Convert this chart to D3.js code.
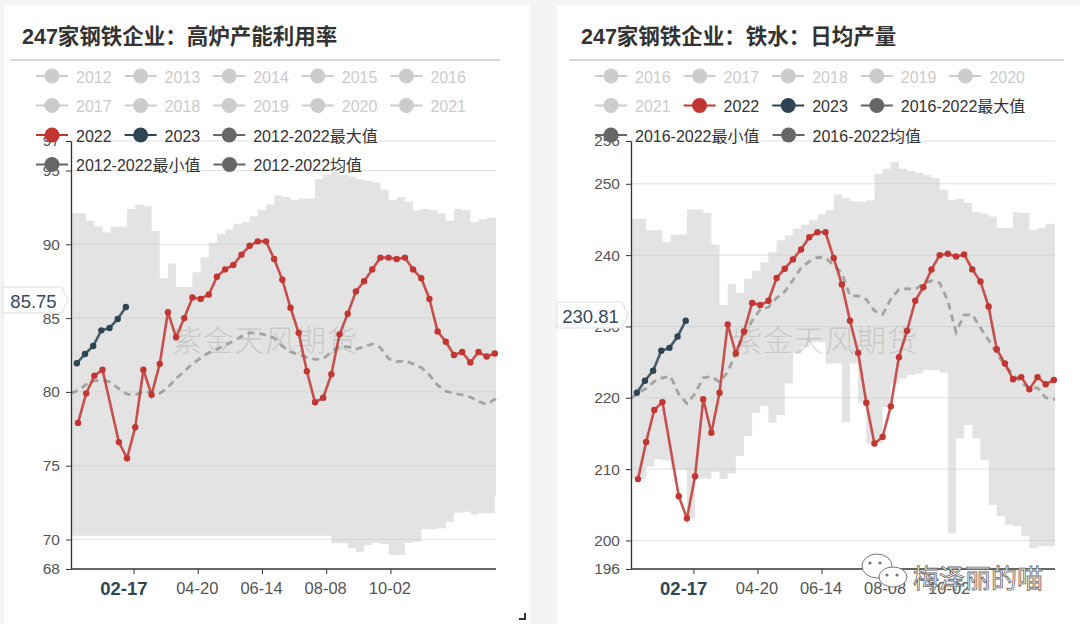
<!DOCTYPE html>
<html><head><meta charset="utf-8">
<script src="https://cdn.jsdelivr.net/npm/d3@7"></script>
<style>
html,body{margin:0;padding:0;background:#f4f4f4;}
svg{display:block;font-family:"Liberation Sans","Noto Sans CJK SC",sans-serif;}
</style></head><body>
<svg id="c" width="1080" height="624"></svg>
<script>
// ---------------- data ----------------
const dates2022 = ["01-07","01-14","01-21","01-28","02-11","02-18","02-25","03-04","03-11","03-18","03-25","04-01","04-08","04-15","04-22","04-29","05-06","05-13","05-20","05-27","06-03","06-10","06-17","06-24","07-01","07-08","07-15","07-22","07-29","08-05","08-12","08-19","08-26","09-02","09-09","09-16","09-23","09-30","10-07","10-14","10-21","10-28","11-04","11-11","11-18","11-25","12-02","12-09","12-16","12-23","12-30"];
const dates2023 = ["01-06","01-13","01-20","01-27","02-03","02-10","02-17"];
const histDates = ["01-01","01-07","01-14","01-21","01-28","02-04","02-11","02-18","02-25","03-04","03-11","03-18","03-25","04-01","04-08","04-15","04-22","04-29","05-06","05-13","05-20","05-27","06-03","06-10","06-17","06-24","07-01","07-08","07-15","07-22","07-29","08-05","08-12","08-19","08-26","09-02","09-09","09-16","09-23","09-30","10-07","10-14","10-21","10-28","11-04","11-11","11-18","11-25","12-02","12-09","12-16","12-23","12-30","12-31"];

// chart 1: blast furnace capacity utilisation (%)
const util2022 = [77.9,79.9,81.1,81.5,76.6,75.5,77.6,81.5,79.8,81.9,85.4,83.7,85.0,86.4,86.3,86.6,87.8,88.3,88.6,89.3,89.9,90.2,90.2,89.0,87.6,85.7,84.0,81.4,79.3,79.6,81.2,83.9,85.3,86.8,87.5,88.3,89.1,89.1,89.0,89.1,88.3,87.7,86.3,84.1,83.4,82.5,82.7,82.0,82.7,82.4,82.6];
const util2023 = [81.94,82.57,83.11,84.17,84.33,84.94,85.75];
const utilMax = [92.1,92.1,91.6,91.2,90.8,91.2,91.2,92.4,92.7,92.6,90.9,87.7,88.7,87.1,87.1,88.1,89.1,90.1,90.7,91.0,91.4,91.5,91.9,92.3,92.7,93.3,93.2,93.0,93.1,93.1,94.4,94.7,94.9,94.7,94.6,94.4,94.3,94.2,93.7,93.0,93.2,92.9,92.3,92.4,92.3,92.1,91.6,92.4,92.3,91.5,91.7,91.8,91.8,91.8];
const utilMin = [70.26,70.26,70.26,70.26,70.26,70.26,70.26,70.26,70.26,70.26,70.26,70.26,70.26,70.26,70.26,70.26,70.26,70.26,70.26,70.26,70.26,70.26,70.26,70.26,70.26,70.26,70.26,70.26,70.26,70.26,70.26,70.26,69.74,69.74,69.40,69.17,69.63,69.78,69.69,68.95,68.95,69.78,69.85,70.69,70.69,70.76,71.21,71.81,71.88,71.70,71.77,71.77,72.95,72.95];
const utilMean = [79.9,80.1,80.5,80.75,80.8,80.65,80.2,79.85,79.8,80.0,79.95,79.9,80.3,80.9,81.4,81.9,82.3,82.65,82.9,83.15,83.45,83.75,84.0,84.0,83.85,83.65,83.1,82.7,82.55,82.35,82.2,82.25,82.7,83.1,83.05,82.9,83.05,83.25,83.0,82.25,82.05,82.1,81.9,81.65,81.15,80.45,80.05,79.9,79.8,79.65,79.35,79.15,79.5,79.7];

// chart 2: hot metal daily output (10k t)
const iron2022 = [208.6,213.8,218.3,219.4,206.2,203.1,209.0,219.8,215.1,220.7,230.3,226.2,229.3,233.3,233.0,233.6,236.8,238.1,239.4,240.8,242.5,243.2,243.2,239.6,235.9,230.8,226.3,219.3,213.6,214.5,218.8,225.7,229.4,233.6,235.5,238.0,240.0,240.2,239.8,240.1,238.0,236.3,232.8,226.8,224.8,222.6,222.9,221.2,222.9,221.9,222.5];
const iron2023 = [220.7,222.4,223.8,226.6,227.0,228.6,230.81];
const ironMax = [245.1,245.1,243.5,243.5,241.8,242.9,242.9,246.4,246.4,245.9,241.5,233.0,236.0,234.7,236.7,237.8,239.0,240.4,242.1,242.8,243.7,244.3,244.9,245.7,246.3,248.5,248.0,247.6,247.5,247.7,251.4,252.1,253.1,252.1,251.8,251.5,251.2,250.8,249.2,247.7,247.9,247.3,246.0,245.8,245.4,243.8,243.8,246.0,245.9,243.5,243.8,244.4,244.4,244.4];
const ironMin = [208.6,208.6,210.35,211.4,211.2,209.9,209.9,203.1,208.7,208.7,209.65,208.6,209.4,211.85,214.65,217.9,218.85,216.5,217.6,222.0,226.2,227.1,227.8,227.8,224.8,224.8,216.6,224.8,219.3,213.6,213.6,218.7,222.0,222.7,223.2,223.4,223.9,223.9,223.5,201.0,214.3,216.2,214.3,211.3,205.0,203.4,202.2,202.0,200.6,198.9,199.2,199.2,199.2,199.2];
const ironMean = [219.9,220.7,221.3,222.3,222.8,223.0,220.5,219.2,220.6,222.8,223.0,222.2,223.6,226.3,228.8,230.8,232.4,232.7,234.0,234.9,236.5,238.2,239.1,239.7,239.6,238.6,237.5,234.3,234.3,233.8,232.2,231.7,233.8,235.2,235.3,235.2,236.0,236.4,236.1,233.6,229.2,231.6,231.7,229.8,228.1,226.2,224.5,223.3,222.1,221.4,221.4,220.0,219.8,219.8];

const utilTicks = [68,70,75,80,85,90,95,97];
const ironTicks = [196,200,210,220,230,240,250,256];
const xTickDates = ["02-24","04-20","06-14","08-08","10-02"];
const xTickLabels = ["","04-20","06-14","08-08","10-02"];
const pointerDate = "02-17";

const legendUtil = ["2012","2013","2014","2015","2016","2017","2018","2019","2020","2021","2022","2023","2012-2022最大值","2012-2022最小值","2012-2022均值"];
const legendIron = ["2016","2017","2018","2019","2020","2021","2022","2023","2016-2022最大值","2016-2022最小值","2016-2022均值"];

// ---------------- drawing ----------------
const svg = d3.select("#c");
const parseMD = d3.timeParse("%m-%d");
const RED = "#c23531", NAVY = "#2f4554", GREY = "#666";

svg.append("rect").attr("x",0).attr("y",0).attr("width",1080).attr("height",624).attr("fill","#f4f4f4");
svg.append("rect").attr("x",4).attr("y",5).attr("width",526).attr("height",625).attr("fill","#fff");
svg.append("rect").attr("x",557).attr("y",5).attr("width",530).attr("height",625).attr("fill","#fff");

function legend(items, x0, y0, maxRight) {
  let x = x0, y = y0;
  items.forEach(name => {
    const active = !/^20(1[2-9]|2[01])$/.test(name);
    const col = !active ? "#ccc" : (name === "2022" ? RED : name === "2023" ? NAVY : GREY);
    const g = svg.append("g");
    const t = g.append("text").text(name).attr("font-size",16)
      .attr("fill", active ? "#333" : "#ccc").attr("dominant-baseline","central");
    const w = t.node().getComputedTextLength();
    if (x + 40 + w > maxRight && x > x0) { x = x0; y += 29.5; }
    g.append("line").attr("x1",x).attr("x2",x+32).attr("y1",y).attr("y2",y)
      .attr("stroke",col).attr("stroke-width",2);
    g.append("circle").attr("cx",x+16).attr("cy",y).attr("r",7.5).attr("fill",col);
    t.attr("x",x+40).attr("y",y+1);
    x += 40 + w + 13;
  });
}

function chart(o) {
  const x = d3.scaleTime().domain([parseMD("01-01"), parseMD("12-31")]).range([o.x0, o.x1]);
  const y = d3.scaleLinear().domain([o.ticks[0], o.ticks[o.ticks.length-1]]).range([569, 141]);
  const g = svg.append("g");

  // title + separator
  svg.append("text").attr("x",o.titleX).attr("y",37).attr("dominant-baseline","central")
    .attr("font-size",21.5).attr("font-weight","bold").attr("fill","#333").text(o.title);
  svg.append("line").attr("x1",o.sepX0).attr("x2",o.sepX1).attr("y1",60).attr("y2",60)
    .attr("stroke","#c8c8c8").attr("stroke-width",1.5);

  // grid
  g.selectAll(".grid").data(o.ticks.slice(1)).join("line")
    .attr("x1",o.x0).attr("x2",o.x1).attr("y1",d=>y(d)).attr("y2",d=>y(d))
    .attr("stroke","#e0e0e0").attr("stroke-width",1);

  // min-max band (stepped)
  const band = o.hist.map((d,i)=>({d:parseMD(d), hi:o.max[i], lo:o.min[i]}));
  g.append("path").datum(band)
    .attr("d", d3.area().curve(d3.curveStepAfter).x(d=>x(d.d)).y0(d=>y(d.lo)).y1(d=>y(d.hi)))
    .attr("fill","#c8c8c8").attr("fill-opacity",0.5);

  // watermark
  g.append("text").attr("x",o.wmX).attr("y",338).attr("dominant-baseline","central")
    .attr("font-size",30).attr("letter-spacing",1).attr("fill","#777").attr("fill-opacity",0.26)
    .attr("font-family","Noto Sans CJK SC").attr("font-weight",300).text("紫金天风期货");

  // mean dashed
  g.append("path").datum(o.hist.map((d,i)=>({d:parseMD(d), v:o.mean[i]})))
    .attr("d", d3.line().x(d=>x(d.d)).y(d=>y(d.v)))
    .attr("fill","none").attr("stroke","#a3a3a3").attr("stroke-width",2.8).attr("stroke-dasharray","7,5");

  // year lines
  [[o.dA,o.vA,RED],[o.dB,o.vB,NAVY]].forEach(([ds,vs,c])=>{
    const pts = ds.map((d,i)=>({d:parseMD(d), v:vs[i]}));
    g.append("path").datum(pts).attr("d", d3.line().x(d=>x(d.d)).y(d=>y(d.v)))
      .attr("fill","none").attr("stroke",c).attr("stroke-width",2.6).attr("stroke-opacity",0.85);
    g.selectAll(null).data(pts).join("circle").attr("cx",d=>x(d.d)).attr("cy",d=>y(d.v))
      .attr("r",3.2).attr("fill",c);
  });

  // y axis
  const ya = g.append("g").attr("transform",`translate(${o.x0},0)`)
    .call(d3.axisLeft(y).tickValues(o.ticks).tickSize(5).tickSizeOuter(0).tickPadding(6).tickFormat(d3.format("d")));
  ya.select(".domain").attr("stroke","#333").attr("stroke-width",1.3);
  ya.selectAll(".tick line").attr("stroke","#333");
  ya.selectAll(".tick text").attr("fill","#555").attr("font-size",15.5).attr("font-family","Liberation Sans");

  // x axis
  g.append("line").attr("x1",o.x0).attr("x2",o.x1).attr("y1",569).attr("y2",569).attr("stroke","#333").attr("stroke-width",1.3);
  xTickDates.forEach((d,i)=>{
    const xx = x(parseMD(d));
    g.append("line").attr("x1",xx).attr("x2",xx).attr("y1",569).attr("y2",574).attr("stroke","#333");
    if (xTickLabels[i]) g.append("text").attr("x",xx-1).attr("y",588).attr("text-anchor","middle")
      .attr("dominant-baseline","central").attr("font-size",16.5).attr("fill","#555").text(xTickLabels[i]);
  });
  // axis pointer labels
  g.append("text").attr("x",x(parseMD(pointerDate))-2).attr("y",588).attr("text-anchor","middle")
    .attr("dominant-baseline","central").attr("font-size",18.5).attr("font-weight","bold").attr("fill",NAVY).text(pointerDate);
  const bx0 = o.boxX0, bx1 = o.x0 - 9, by = o.boxY;
  g.append("path").attr("d",`M${bx0},${by-13}H${bx1}L${bx1+6},${by}L${bx1},${by+13}H${bx0}Z`)
    .attr("fill","#fff").attr("stroke","#ddd");
  g.append("text").attr("x",(bx0+bx1)/2+1).attr("y",by+1).attr("text-anchor","middle").attr("dominant-baseline","central")
    .attr("font-size",18.5).attr("fill","#34495e").text(o.vB[o.vB.length-1].toFixed(2));
}

chart({x0:71, x1:496, ticks:utilTicks, title:"247家钢铁企业：高炉产能利用率", titleX:22, sepX0:10, sepX1:500,
  hist:histDates, max:utilMax, min:utilMin, mean:utilMean, dA:dates2022, vA:util2022, dB:dates2023, vB:util2023,
  wmX:172, boxX0:3, boxY:300});
chart({x0:631, x1:1055, ticks:ironTicks, title:"247家钢铁企业：铁水：日均产量", titleX:581, sepX0:569, sepX1:1064,
  hist:histDates, max:ironMax, min:ironMin, mean:ironMean, dA:dates2022, vA:iron2022, dB:dates2023, vB:iron2023,
  wmX:732, boxX0:557, boxY:315});

legend(legendUtil, 36, 76, 506);
legend(legendIron, 595, 76, 1068);

// panel corner handle
svg.append("path").attr("d","M519,619H525V613").attr("fill","none").attr("stroke","#333").attr("stroke-width",2);

// wechat watermark
const wm = svg.append("g");
wm.append("ellipse").attr("cx",877).attr("cy",566).attr("rx",15).attr("ry",12).attr("fill","#fff").attr("stroke","#777").attr("stroke-width",1);
wm.append("ellipse").attr("cx",893).attr("cy",577).attr("rx",14).attr("ry",10).attr("fill","#fff").attr("stroke","#777").attr("stroke-width",1);
[[870,563],[880,563],[887,575],[897,575]].forEach(([cx,cy])=>wm.append("circle").attr("cx",cx).attr("cy",cy).attr("r",1.6).attr("fill","#777"));
wm.append("text").attr("x",913).attr("y",576).attr("dominant-baseline","central").attr("font-size",26)
  .attr("font-family","Noto Sans CJK SC").attr("fill","#fff").attr("stroke","#666").attr("stroke-width",0.8).text("梅泽丽的喵");
</script>
</body></html>
